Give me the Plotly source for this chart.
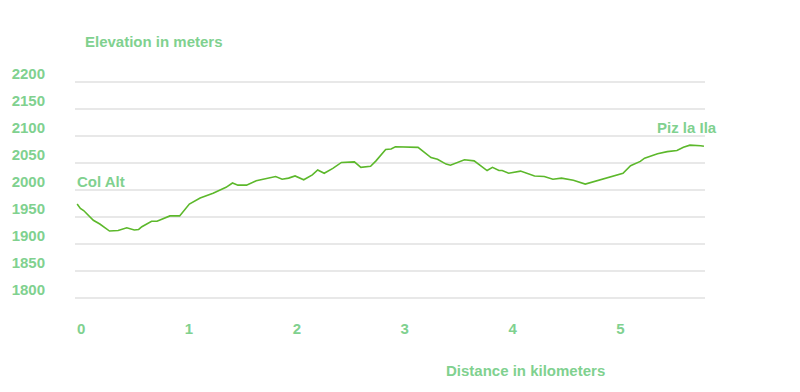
import plotly.graph_objects as go

distance_km = [0.00, 0.03, 0.06, 0.15, 0.21, 0.30, 0.38, 0.46, 0.53, 0.57, 0.60,
               0.69, 0.74, 0.86, 0.95, 0.98, 1.04, 1.14, 1.26, 1.38, 1.44, 1.49,
               1.57, 1.66, 1.78, 1.84, 1.90, 1.96, 2.02, 2.10, 2.18, 2.23, 2.29,
               2.37, 2.45, 2.57, 2.63, 2.72, 2.77, 2.86, 2.91, 2.95, 3.16, 3.28,
               3.34, 3.42, 3.46, 3.59, 3.68, 3.74, 3.80, 3.85, 3.91, 3.94, 4.00,
               4.11, 4.16, 4.24, 4.33, 4.41, 4.49, 4.60, 4.71, 4.81, 4.92, 5.06,
               5.13, 5.22, 5.26, 5.38, 5.47, 5.56, 5.62, 5.68, 5.78, 5.81]
elevation_m = [1974, 1966, 1962, 1944, 1937, 1924, 1925, 1930, 1926, 1927, 1932,
               1942, 1942, 1952, 1952, 1959, 1974, 1985, 1994, 2005, 2013, 2009,
               2009, 2017, 2022, 2025, 2020, 2022, 2026, 2019, 2028, 2037, 2031,
               2040, 2051, 2052, 2042, 2044, 2054, 2075, 2076, 2080, 2079, 2060,
               2057, 2048, 2046, 2056, 2054, 2045, 2036, 2042, 2036, 2036, 2031,
               2035, 2031, 2026, 2025, 2020, 2022, 2018, 2011, 2017, 2023, 2031,
               2045, 2053, 2059, 2067, 2071, 2073, 2079, 2083, 2082, 2081]

x_ticks = [0, 1, 2, 3, 4, 5]
y_ticks = [1800, 1850, 1900, 1950, 2000, 2050, 2100, 2150, 2200]

start_label = "Col Alt"
end_label = "Piz la Ila"
y_title = "Elevation in meters"
x_title = "Distance in kilometers"

text_color = "#80d18f"
line_color = "#5cb82b"
font_family = "Liberation Sans, Arial, sans-serif"

W, H = 800, 392
L, R, T, B = 73, 95, 70, 82
PW, PH = W - L - R, H - T - B


def px_x(x):
    return (x - L) / PW


def px_y(y):
    return (H - B - y) / PH


bold = dict(size=15, color=text_color, weight="bold")

fig = go.Figure()
fig.add_trace(go.Scatter(
    x=distance_km, y=elevation_m, mode="lines",
    line=dict(color=line_color, width=1.6),
    hoverinfo="skip", showlegend=False,
))

fig.update_layout(
    width=W, height=H,
    margin=dict(l=L, r=R, t=T, b=B),
    paper_bgcolor="white", plot_bgcolor="white",
    font=dict(family=font_family, size=15, color=text_color),
    xaxis=dict(
        range=[-0.02, 5.82], tickvals=x_ticks, showgrid=False, zeroline=False,
        showline=False, ticks="", ticklabelstandoff=8, ticklabelshift=4,
        tickfont=bold,
    ),
    yaxis=dict(
        range=[1777.8, 2222.2], tickvals=y_ticks, showgrid=True,
        gridcolor="#e8e8e8", gridwidth=1.5, zeroline=False, showline=False,
        ticks="", ticklabelstandoff=29, ticklabelshift=-8,
        tickfont=bold,
    ),
    annotations=[
        dict(text=y_title, xref="paper", yref="paper", x=px_x(81), y=px_y(41),
             xanchor="left", yanchor="middle", showarrow=False, font=bold),
        dict(text=x_title, xref="paper", yref="paper", x=px_x(443), y=px_y(370),
             xanchor="left", yanchor="middle", showarrow=False, font=bold),
        dict(text=start_label, xref="paper", yref="paper", x=px_x(73), y=px_y(181),
             xanchor="left", yanchor="middle", showarrow=False, font=bold),
        dict(text=end_label, xref="paper", yref="paper", x=px_x(719), y=px_y(127),
             xanchor="right", yanchor="middle", showarrow=False, font=bold),
    ],
)

fig.write_html("out.html")
